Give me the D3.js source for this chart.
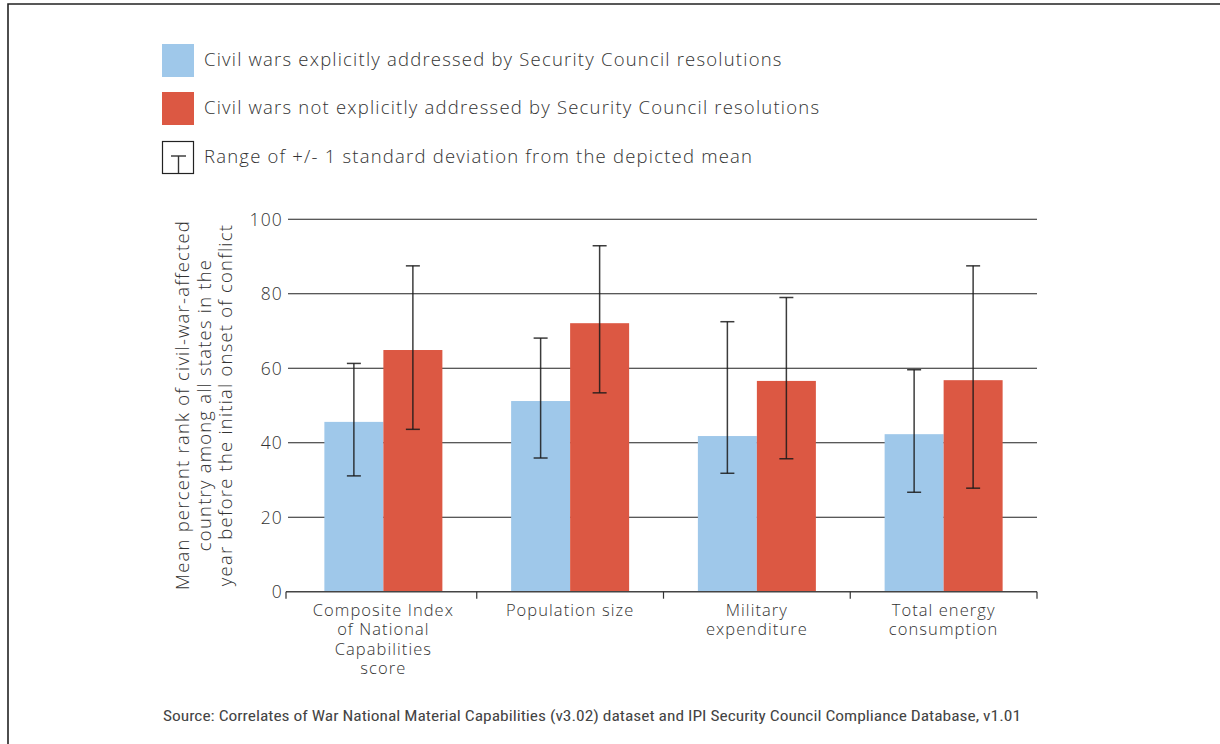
<!DOCTYPE html>
<html><head><meta charset="utf-8">
<script src="https://cdn.jsdelivr.net/npm/d3@7"></script>
<style>
html,body{margin:0;padding:0;background:#fff;}
svg{display:block;font-family:"Open Sans",Lato,sans-serif;font-weight:300;}
.ls{letter-spacing:0.065em;}
</style></head>
<body>
<svg id="chart" width="1220" height="744"></svg>
<script>
const categories = [
  ["Composite Index","of National","Capabilities","score"],
  ["Population size"],
  ["Military","expenditure"],
  ["Total energy","consumption"]
];
const seriesNames = [
  "Civil wars explicitly addressed by Security Council resolutions",
  "Civil wars not explicitly addressed by Security Council resolutions"
];
const addressedMean = [45.6, 51.2, 41.8, 42.3];
const addressedLow  = [31.1, 35.9, 31.8, 26.7];
const addressedHigh = [61.3, 68.1, 72.5, 59.6];
const notAddressedMean = [64.9, 72.1, 56.6, 56.8];
const notAddressedLow  = [43.6, 53.4, 35.7, 27.8];
const notAddressedHigh = [87.5, 92.9, 79.0, 87.5];
const yTicks = [0, 20, 40, 60, 80, 100];
const yTitle = ["Mean percent rank of civil-war-affected","country among all states in the","year before the initial onset of conflict"];
const errLegend = "Range of +/- 1 standard deviation from the depicted mean";
const source = "Source: Correlates of War National Material Capabilities (v3.02) dataset and IPI  Security Council Compliance Database, v1.01";
const colors = ["#9FC8EA", "#DC5843"];

(function(){
const svg = d3.select("#chart");

// frame
svg.append("path").attr("d","M8,744 L8,4 L1220,4").attr("fill","none")
  .attr("stroke","#222").attr("stroke-width",1.6);

const axisLeft = 286, pLeft = 290, pRight = 1037, pTop = 219.3, pBottom = 591.7;
const x0 = d3.scaleBand().domain(d3.range(categories.length)).range([pLeft, pRight]).paddingInner(0).paddingOuter(0);
const x1 = d3.scaleBand().domain([0,1]).range([0, 118]);
const y = d3.scaleLinear().domain([0,100]).range([pBottom, pTop]);

// gridlines
svg.append("g").selectAll("line").data(yTicks.filter(d=>d>0)).join("line")
  .attr("x1", axisLeft+2).attr("x2", pRight).attr("y1", d=>y(d)).attr("y2", d=>y(d))
  .attr("stroke","#222").attr("stroke-width",1.1);

// y tick labels
svg.append("g").selectAll("text").data(yTicks).join("text")
  .attr("class","ls")
  .attr("x", 283).attr("y", d=>y(d)).attr("dy","0.36em")
  .attr("text-anchor","end").attr("font-size",17.5).attr("fill","#333").text(d=>d);

// bars
const series = [
  {mean: addressedMean, low: addressedLow, high: addressedHigh},
  {mean: notAddressedMean, low: notAddressedLow, high: notAddressedHigh}
];
const barsG = svg.append("g");
series.forEach((s, si) => {
  barsG.selectAll(null).data(s.mean).join("rect")
    .attr("x", (d,i)=> x0(i) + x0.bandwidth()/2 - 59 + x1(si))
    .attr("width", x1.bandwidth())
    .attr("y", d=>y(d)).attr("height", d=>pBottom - y(d))
    .attr("fill", colors[si]);
});

// x axis
const xAxis = svg.append("g");
xAxis.append("line").attr("x1",axisLeft).attr("x2",pRight).attr("y1",pBottom).attr("y2",pBottom)
  .attr("stroke","#444").attr("stroke-width",1.4);
const bounds = [axisLeft].concat(x0.domain().slice(1).map(i=>x0(i))).concat([pRight]);
xAxis.selectAll(".tk").data(bounds).join("line")
  .attr("x1",d=>d).attr("x2",d=>d).attr("y1",pBottom).attr("y2",pBottom+7)
  .attr("stroke","#333").attr("stroke-width",1.2);

// error bars
const errG = svg.append("g");
series.forEach((s, si) => {
  s.mean.forEach((m,i) => {
    const cx = x0(i) + x0.bandwidth()/2 - 59 + x1(si) + x1.bandwidth()/2;
    const g = errG.append("g").attr("stroke","#1a1a1a").attr("stroke-opacity",0.85).attr("stroke-width",1.5);
    g.append("line").attr("x1",cx).attr("x2",cx).attr("y1",y(s.high[i])).attr("y2",y(s.low[i]));
    g.append("line").attr("x1",cx-7).attr("x2",cx+7).attr("y1",y(s.high[i])).attr("y2",y(s.high[i]));
    g.append("line").attr("x1",cx-7).attr("x2",cx+7).attr("y1",y(s.low[i])).attr("y2",y(s.low[i]));
  });
});

// category labels
const catG = svg.append("g");
categories.forEach((lines,i) => {
  const t = catG.append("text").attr("class","ls").attr("text-anchor","middle").attr("font-size",16.5).attr("fill","#333");
  lines.forEach((ln,j) => {
    t.append("tspan").attr("x", x0(i)+x0.bandwidth()/2).attr("y", 616 + j*19.3).text(ln);
  });
});

// y title
const yt = svg.append("text").attr("class","ls").attr("transform","translate(0,405) rotate(-90)")
  .attr("text-anchor","middle").attr("font-size",18.5).attr("fill","#333");
yTitle.forEach((ln,j) => {
  yt.append("tspan").attr("x",0).attr("y", 189 + j*21.5).text(ln);
});

// legend
const lg = svg.append("g");
const legendY = [44, 92];
seriesNames.forEach((n,i) => {
  lg.append("rect").attr("x",162).attr("y",legendY[i]).attr("width",32).attr("height",33).attr("fill",colors[i]);
  lg.append("text").attr("class","ls").attr("x",204).attr("y",legendY[i]+16).attr("dy","0.35em")
    .attr("font-size",18.5).attr("fill","#333").text(n);
});
lg.append("rect").attr("x",162.5).attr("y",141.5).attr("width",31).attr("height",32)
  .attr("fill","none").attr("stroke","#222").attr("stroke-width",1.2);
lg.append("line").attr("x1",171).attr("x2",186).attr("y1",156).attr("y2",156).attr("stroke","#333").attr("stroke-width",1.4);
lg.append("line").attr("x1",178.5).attr("x2",178.5).attr("y1",156).attr("y2",173).attr("stroke","#333").attr("stroke-width",1.4);
lg.append("text").attr("class","ls").attr("x",204).attr("y",157).attr("dy","0.35em")
  .attr("font-size",18.5).attr("fill","#333").text(errLegend);

// source
svg.append("text").attr("x",163).attr("y",716).attr("dy","0.35em")
  .attr("font-family","'Liberation Sans Narrow','Roboto Condensed',sans-serif").attr("font-weight",400)
  .attr("font-size",14.5).attr("fill","#444").attr("textLength",858).attr("lengthAdjust","spacingAndGlyphs")
  .text(source);
})();
</script>
</body></html>
